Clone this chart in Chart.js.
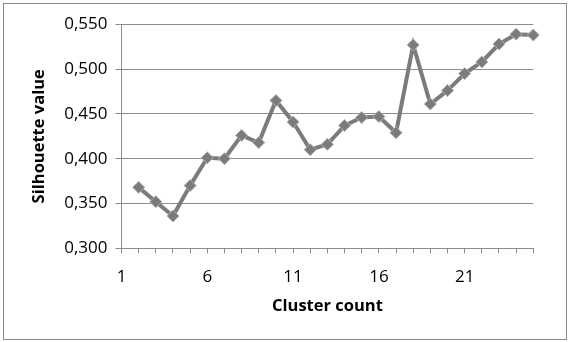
<!DOCTYPE html>
<html>
<head>
<meta charset="utf-8">
<script src="https://cdn.jsdelivr.net/npm/chart.js@4/dist/chart.umd.min.js"></script>
<style>
html,body{margin:0;padding:0;background:#fff;}
#wrap{width:570px;height:342px;position:relative;}
</style>
</head>
<body>
<div id="wrap"><canvas id="c" width="570" height="342"></canvas></div>
<script>
const clusterCounts = [2,3,4,5,6,7,8,9,10,11,12,13,14,15,16,17,18,19,20,21,22,23,24,25];
const silhouetteValues = [0.368,0.352,0.336,0.370,0.401,0.400,0.426,0.418,0.465,0.441,0.410,0.416,0.437,0.446,0.447,0.429,0.527,0.461,0.476,0.495,0.508,0.528,0.539,0.538];
const xTickLabels = [1,6,11,16,21];
const yTickValues = [0.300,0.350,0.400,0.450,0.500,0.550];

const FONT = "'Open Sans', 'Liberation Sans', sans-serif";
const GRID = '#8c8c8c';
const LINE = '#7b7b7b';

const borderPlugin = {
  id: 'outerBorder',
  beforeDraw(chart) {
    const ctx = chart.ctx;
    ctx.save();
    ctx.fillStyle = '#fff';
    ctx.fillRect(0, 0, chart.width, chart.height);
    ctx.strokeStyle = '#8a8a8a';
    ctx.lineWidth = 1;
    ctx.strokeRect(3.5, 3.5, 563, 336);
    ctx.restore();
  }
};

new Chart(document.getElementById('c'), {
  type: 'line',
  data: {
    datasets: [{
      data: clusterCounts.map((x, i) => ({x: x, y: silhouetteValues[i]})),
      borderColor: LINE,
      borderWidth: 4,
      pointStyle: 'rectRot',
      pointRadius: 6,
      pointBackgroundColor: LINE,
      pointBorderColor: '#b0b0b0',
      pointBorderWidth: 1,
      tension: 0,
      clip: false
    }]
  },
  plugins: [borderPlugin],
  options: {
    responsive: false,
    animation: false,
    events: [],
    layout: { padding: { left: 25, right: 36.7, top: 24.3, bottom: 0 } },
    plugins: { legend: { display: false }, tooltip: { enabled: false } },
    scales: {
      x: {
        type: 'linear',
        min: 1, max: 25,
        afterFit(s) { s.height = 93.7; },
        afterBuildTicks(s) {
          const t = [];
          for (let v = 1; v <= 25; v++) t.push({value: v});
          s.ticks = t;
        },
        ticks: {
          autoSkip: false,
          maxRotation: 0,
          padding: 14,
          color: '#000',
          font: { family: FONT, size: 17 },
          callback: v => xTickLabels.includes(v) ? String(v) : ''
        },
        grid: { drawOnChartArea: false, drawTicks: true, tickLength: 5, color: GRID },
        border: { display: true, color: GRID, width: 1 },
        title: {
          display: true, text: 'Cluster count', color: '#000',
          font: { family: FONT, size: 16.5, weight: 'bold' },
          padding: { top: 0, bottom: 26 }
        }
      },
      y: {
        type: 'linear',
        min: 0.3, max: 0.55,
        afterFit(s) { s.width = 96.5; },
        afterBuildTicks(s) { s.ticks = yTickValues.map(v => ({value: v})); },
        ticks: {
          padding: 8,
          color: '#000',
          font: { family: FONT, size: 17 },
          callback: v => v.toFixed(3).replace('.', ',')
        },
        grid: { color: GRID, lineWidth: 1, drawTicks: true, tickLength: 6 },
        border: { display: true, color: GRID, width: 1 },
        title: {
          display: true, text: 'Silhouette value', color: '#000',
          font: { family: FONT, size: 16.5, weight: 'bold' },
          padding: { top: 4, bottom: 0 }
        }
      }
    }
  }
});
</script>
</body>
</html>
